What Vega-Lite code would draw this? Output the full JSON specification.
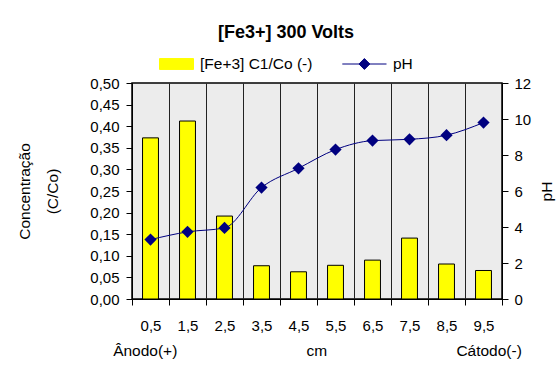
{
  "$schema": "https://vega.github.io/schema/vega-lite/v6.json",
  "width": 370,
  "height": 216,
  "autosize": "none",
  "padding": {"left": 132, "top": 83, "right": 55, "bottom": 67},
  "background": "white",
  "config": {
    "font": "Liberation Sans",
    "view": {"fill": "#ececec", "stroke": "#000", "strokeWidth": 1.5},
    "axis": {
      "labelFont": "Liberation Sans",
      "titleFont": "Liberation Sans",
      "labelColor": "#000",
      "titleColor": "#000",
      "domainColor": "#000",
      "tickColor": "#000",
      "labelFontSize": 15,
      "titleFontSize": 15.5,
      "titleFontWeight": "normal",
      "tickSize": 6
    }
  },
  "title": {
    "text": "[Fe3+] 300 Volts",
    "font": "Liberation Sans",
    "fontSize": 18,
    "fontWeight": "bold",
    "color": "#000",
    "anchor": "middle",
    "dx": -31,
    "offset": 5
  },
  "data": {
    "values": [
      {"x": "0,5", "c": 0.373, "ph": 3.3},
      {"x": "1,5", "c": 0.412, "ph": 3.73},
      {"x": "2,5", "c": 0.192, "ph": 3.95},
      {"x": "3,5", "c": 0.077, "ph": 6.19},
      {"x": "4,5", "c": 0.063, "ph": 7.26},
      {"x": "5,5", "c": 0.078, "ph": 8.3},
      {"x": "6,5", "c": 0.09, "ph": 8.8},
      {"x": "7,5", "c": 0.141, "ph": 8.87},
      {"x": "8,5", "c": 0.081, "ph": 9.1},
      {"x": "9,5", "c": 0.066, "ph": 9.8}
    ]
  },
  "layer": [
    {
      "mark": {"type": "bar", "stroke": "#000", "strokeWidth": 1, "width": {"band": 0.43}},
      "encoding": {
        "x": {
          "field": "x",
          "type": "ordinal",
          "sort": null,
          "scale": {"paddingInner": 0, "paddingOuter": 0},
          "axis": {
            "labelAngle": 0,
            "tickBand": "extent",
            "grid": true,
            "gridColor": "#222",
            "gridWidth": 1,
            "labelPadding": 13,
            "title": "Ânodo(+)\u00a0\u00a0\u00a0\u00a0\u00a0\u00a0\u00a0\u00a0\u00a0\u00a0\u00a0\u00a0\u00a0\u00a0\u00a0\u00a0\u00a0\u00a0\u00a0\u00a0\u00a0\u00a0\u00a0\u00a0\u00a0\u00a0\u00a0\u00a0\u00a0\u00a0cm\u00a0\u00a0\u00a0\u00a0\u00a0\u00a0\u00a0\u00a0\u00a0\u00a0\u00a0\u00a0\u00a0\u00a0\u00a0\u00a0\u00a0\u00a0\u00a0\u00a0\u00a0\u00a0\u00a0\u00a0\u00a0\u00a0\u00a0\u00a0\u00a0\u00a0Cátodo(-)",
            "titleY": 51,
            "titleBaseline": "middle"
          }
        },
        "y": {
          "field": "c",
          "type": "quantitative",
          "scale": {"domain": [0, 0.5], "nice": false},
          "axis": {
            "values": [0, 0.05, 0.1, 0.15, 0.2, 0.25, 0.3, 0.35, 0.4, 0.45, 0.5],
            "labelExpr": "replace(format(datum.value, '.2f'), '.', ',')",
            "grid": false,
            "labelPadding": 7,
            "title": ["Concentração", "(C/Co)"],
            "titleAngle": -90,
            "titleX": -108,
            "titleY": 108,
            "titleBaseline": "middle",
            "titleLineHeight": 28
          }
        },
        "color": {
          "datum": "[Fe+3] C1/Co (-)",
          "scale": {"domain": ["[Fe+3] C1/Co (-)", "pH"], "range": ["#ffff00", "#000080"]},
          "legend": {
            "orient": "none",
            "legendX": 27,
            "legendY": -36.5,
            "direction": "horizontal",
            "title": null,
            "padding": 0,
            "symbolSize": 1156,
            "symbolType": {"expr": "datum.value === 'pH' ? 'M-1.6,0H1M-0.3,-0.32L0.02,0L-0.3,0.32L-0.62,0Z' : 'M-1,-0.32H1V0.32H-1Z'"},
            "symbolFillColor": {"expr": "datum.value === 'pH' ? '#000080' : '#ffff00'"},
            "symbolStrokeColor": {"expr": "datum.value === 'pH' ? '#000080' : '#000000'"},
            "symbolStrokeWidth": 1,
            "symbolOpacity": 1,
            "labelFont": "Liberation Sans",
            "labelFontSize": 15.5,
            "labelColor": "#000",
            "labelOffset": 6,
            "columnPadding": 27
          }
        }
      }
    },
    {
      "mark": {
        "type": "line",
        "interpolate": "monotone",
        "strokeWidth": 1,
        "point": {"shape": "diamond", "size": 150, "filled": true, "opacity": 1}
      },
      "encoding": {
        "x": {"field": "x", "type": "ordinal", "sort": null},
        "y": {
          "field": "ph",
          "type": "quantitative",
          "scale": {"domain": [0, 12], "nice": false},
          "axis": {
            "orient": "right",
            "values": [0, 2, 4, 6, 8, 10, 12],
            "grid": false,
            "labelPadding": 6,
            "title": "pH",
            "titleAngle": -90,
            "titleX": 44,
            "titleY": 108,
            "titleBaseline": "middle"
          }
        },
        "color": {"datum": "pH"}
      }
    }
  ],
  "resolve": {"scale": {"y": "independent"}}
}
